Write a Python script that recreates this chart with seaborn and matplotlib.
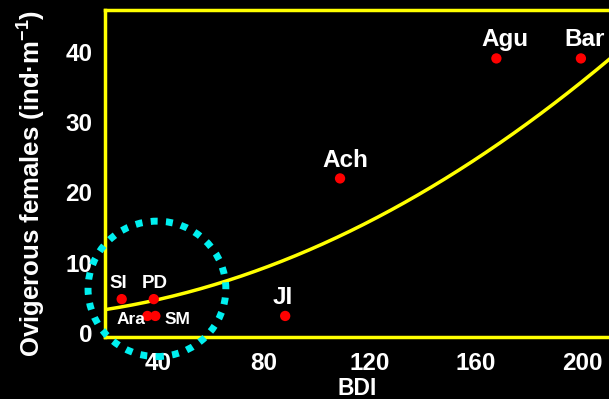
import numpy as np
import pandas as pd
import matplotlib
matplotlib.use("Agg")
import matplotlib.pyplot as plt
from matplotlib.patches import Ellipse
import seaborn as sns

# Sites: benthic diversity index vs. ovigerous female density
sites = ["SI", "PD", "Ara", "SM", "JI", "Ach", "Agu", "Bar"]
bdi = [26.3, 38.4, 36.0, 39.0, 88.0, 108.7, 167.7, 199.6]
ovigerous = [4.8, 4.8, 2.4, 2.4, 2.4, 22.0, 39.1, 39.1]

# Quadratic trend (intercept, linear, quadratic)
trend_coef = [2.41, 0.0309, 0.00068]

x_ticks = [40, 80, 120, 160, 200]
y_ticks = [0, 10, 20, 30, 40]

sns.set_style("dark", rc={"axes.facecolor": "black", "figure.facecolor": "black"})
plt.rcParams["font.family"] = ["Liberation Sans", "DejaVu Sans"]
plt.rcParams["font.weight"] = "bold"
plt.rcParams["mathtext.fontset"] = "custom"
plt.rcParams["mathtext.rm"] = "Liberation Sans:bold"
plt.rcParams["mathtext.bf"] = "Liberation Sans:bold"
plt.rcParams["mathtext.default"] = "bf"

YEL = "#ffff00"
W, H, DPI = 609, 399, 100
fig = plt.figure(figsize=(W / DPI, H / DPI), dpi=DPI, facecolor="black")
ax = fig.add_axes([105 / W, 62 / H, (W - 105) / W, 327 / H])
ax.set_facecolor("black")

df = pd.DataFrame({"BDI": bdi, "Ovigerous": ovigerous, "site": sites})

# trend curve
xs = np.linspace(20, 212, 300)
ys = trend_coef[0] + trend_coef[1] * xs + trend_coef[2] * xs ** 2
sns.lineplot(x=xs, y=ys, ax=ax, color=YEL, linewidth=2.5, zorder=2)

sns.scatterplot(data=df, x="BDI", y="Ovigerous", ax=ax, color="#ff0000",
                s=55, edgecolor="none", zorder=3)

label_style = {
    "SI": ((-3, 16), 13.5), "PD": ((1, 16), 13.5),
    "Ara": ((-16, -4), 12.5), "SM": ((22, -4), 12.5),
    "JI": ((-2, 18), 17.5), "Ach": ((5, 18), 17.5),
    "Agu": ((9, 19), 17.5), "Bar": ((4, 19), 17.5),
}
for s, xv, yv in zip(sites, bdi, ovigerous):
    off, fs = label_style[s]
    ax.annotate(s, (xv, yv), xytext=off, textcoords="offset pixels",
                ha="center", va="center", color="white", fontsize=fs,
                fontweight="bold", zorder=4)

# dotted highlight around the low-diversity cluster
ring = Ellipse((39.6, 6.26), width=52, height=19.3, fill=False,
               edgecolor="#00f0f0", linewidth=5.0, linestyle=(0, (1.0, 1.2)),
               capstyle="butt", clip_on=False, zorder=5)
ax.add_patch(ring)

ax.set_xlim(20, 210.2)
ax.set_ylim(-0.6, 46)
ax.set_xticks(x_ticks)
ax.set_yticks(y_ticks)
ax.tick_params(axis="both", colors=YEL, width=2.5, length=5, direction="out",
               labelcolor="white", labelsize=17.5)
ax.tick_params(axis="x", pad=6)
ax.tick_params(axis="y", pad=4)
for lab in ax.get_xticklabels() + ax.get_yticklabels():
    lab.set_fontweight("bold")

for side in ["left", "bottom", "top"]:
    ax.spines[side].set_visible(True)
    ax.spines[side].set_color(YEL)
    ax.spines[side].set_linewidth(2.5)
ax.spines["right"].set_visible(False)
ax.grid(False)

ax.set_xlabel("BDI", color="white", fontsize=16.5, fontweight="bold", va="top")
ax.xaxis.set_label_coords(0.5, -0.122)
ax.set_ylabel(r"Ovigerous females (ind·m$^{-1}$)", color="white",
              fontsize=18.5, fontweight="bold", va="center")
ax.yaxis.set_label_coords(-0.145, 0.468)

fig.savefig("out.png", dpi=DPI, facecolor="black")
